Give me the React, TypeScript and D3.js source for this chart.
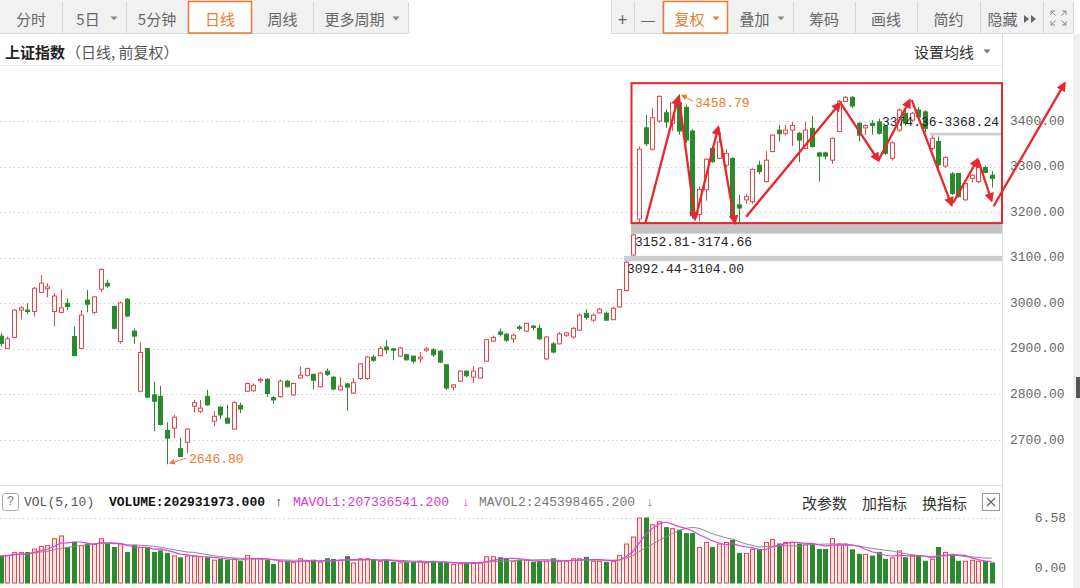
import React from 'react';
import * as d3 from 'd3';

// ---------- DATA ----------
const opens = [
  2928, 2901, 2925, 2985, 2985, 2982, 3024, 3032, 2982, 2980,
  3000, 2927, 2901, 3007, 2980, 3031, 3044, 2993, 2916, 3009,
  2939, 2807, 2901, 2799, 2796, 2721, 2726, 2681, 2695, 2774,
  2763, 2796, 2741, 2772, 2748, 2724, 2776, 2807, 2808, 2830,
  2833, 2793, 2795, 2829, 2799, 2836, 2842, 2844, 2817, 2851,
  2838, 2810, 2823, 2803, 2835, 2835, 2882, 2885, 2904, 2900,
  2884, 2887, 2884, 2878, 2897, 2898, 2895, 2865, 2816, 2829,
  2851, 2838, 2836, 2873, 2917, 2937, 2932, 2922, 2948, 2939,
  2950, 2945, 2878, 2911, 2911, 2930, 2926, 2941, 2978, 2963,
  2979, 2978, 2964, 2992, 3028, 3106, 3185, 3385, 3338, 3400,
  3418, 3395, 3440, 3430, 3378, 3195, 3249, 3340, 3318, 3303,
  3318, 3216, 3227, 3223, 3303, 3267, 3333, 3380, 3373, 3380,
  3373, 3340, 3384, 3330, 3330, 3314, 3377, 3443, 3452, 3395,
  3385, 3395, 3398, 3388, 3318, 3380, 3417, 3402, 3424, 3420,
  3340, 3355, 3301, 3284, 3285, 3227, 3274, 3267, 3298, 3281,
];
const highs = [
  2935, 2927, 2987, 2994, 3000, 3036, 3062, 3044, 3022, 3031,
  3011, 2949, 2985, 3029, 3015, 3077, 3052, 2995, 3004, 3011,
  2945, 2914, 2902, 2828, 2819, 2739, 2755, 2705, 2726, 2788,
  2788, 2810, 2763, 2775, 2777, 2785, 2782, 2826, 2824, 2836,
  2836, 2796, 2832, 2832, 2826, 2861, 2859, 2846, 2850, 2857,
  2840, 2838, 2825, 2836, 2869, 2884, 2887, 2906, 2919, 2902,
  2904, 2890, 2885, 2893, 2904, 2902, 2897, 2866, 2823, 2853,
  2853, 2862, 2860, 2922, 2929, 2945, 2935, 2933, 2952, 2957,
  2952, 2953, 2928, 2915, 2937, 2937, 2948, 2978, 2987, 2978,
  2990, 2982, 2993, 3031, 3092.44, 3152.81, 3344, 3413, 3428, 3456,
  3426, 3442, 3458.79, 3436, 3382, 3256, 3318, 3345, 3369, 3338,
  3320, 3238, 3240, 3296, 3313, 3334, 3371, 3392, 3392, 3398,
  3376, 3398, 3411, 3333, 3333, 3364, 3446, 3455, 3455, 3398,
  3393, 3402, 3405, 3390, 3356, 3428, 3425, 3420, 3430, 3424,
  3368.24, 3366, 3323, 3288, 3285, 3264, 3283, 3310, 3302, 3290,
];
const lows = [
  2905, 2899, 2923, 2965, 2976, 2971, 3022, 3013, 2949, 2978,
  2985, 2884, 2899, 2980, 2976, 3025, 3033, 2943, 2911, 2971,
  2911, 2805, 2793, 2719, 2732, 2646.8, 2704, 2663, 2671, 2760,
  2759, 2775, 2730, 2746, 2736, 2722, 2759, 2806, 2806, 2825,
  2795, 2779, 2793, 2815, 2797, 2835, 2839, 2811, 2815, 2840,
  2809, 2808, 2764, 2801, 2832, 2832, 2871, 2884, 2890, 2875,
  2882, 2874, 2868, 2869, 2893, 2882, 2869, 2810, 2809, 2827,
  2838, 2825, 2835, 2871, 2915, 2927, 2915, 2913, 2941, 2937,
  2941, 2919, 2876, 2890, 2910, 2926, 2922, 2939, 2964, 2959,
  2978, 2961, 2963, 2990, 3026, 3104, 3174.66, 3345, 3335, 3396,
  3385, 3378, 3370, 3352, 3186, 3180, 3225, 3308, 3316, 3298,
  3188, 3176, 3218, 3218, 3283, 3265, 3331, 3355, 3368, 3345,
  3310, 3338, 3341, 3267, 3316, 3306, 3375, 3441, 3428, 3355,
  3370, 3370, 3370, 3325, 3313, 3376, 3390, 3398, 3405, 3374.36,
  3335, 3292, 3297, 3238, 3232, 3225, 3265, 3263, 3285, 3254,
];
const closes = [
  2912, 2922, 2985, 2990, 2982, 3033, 3044, 3036, 3016, 2990,
  2993, 2885, 2974, 2998, 3014, 3074, 3038, 2945, 3001, 2972,
  2928, 2892, 2794, 2785, 2734, 2704, 2750, 2664, 2724, 2782,
  2770, 2777, 2752, 2755, 2737, 2782, 2768, 2824, 2820, 2833,
  2802, 2788, 2829, 2817, 2824, 2842, 2857, 2831, 2847, 2844,
  2812, 2818, 2816, 2826, 2867, 2882, 2875, 2901, 2898, 2897,
  2902, 2876, 2873, 2882, 2900, 2887, 2871, 2814, 2821, 2851,
  2841, 2851, 2858, 2920, 2925, 2932, 2919, 2930, 2945, 2956,
  2947, 2922, 2926, 2893, 2933, 2935, 2945, 2974, 2969, 2974,
  2987, 2963, 2989, 3030, 3090, 3150, 3338, 3350, 3407, 3454,
  3398, 3440, 3378, 3358, 3192, 3250, 3316, 3311, 3354, 3329,
  3190, 3209, 3234, 3294, 3289, 3314, 3369, 3372, 3380, 3390,
  3358, 3380, 3344, 3323, 3323, 3362, 3443, 3452, 3433, 3369,
  3390, 3390, 3373, 3329, 3352, 3424, 3395, 3417, 3409, 3384,
  3362, 3304, 3320, 3241, 3234, 3263, 3281, 3298, 3287, 3274,
];
// volume in 1e8 shares
const volumes = [
  2.73, 2.8, 3.08, 3.08, 3.08, 3.43, 3.7, 3.78, 4.48, 4.76,
  3.6, 4.13, 3.78, 3.95, 3.95, 4.48, 3.95, 3.6, 3.95, 3.08,
  3.78, 3.6, 3.6, 3.08, 3.25, 3.0, 2.73, 2.55, 2.73, 2.73,
  2.66, 2.55, 2.31, 2.38, 2.31, 2.45, 2.2, 2.8, 2.45, 2.45,
  2.31, 1.86, 2.2, 2.2, 2.1, 2.45, 2.2, 2.31, 2.1, 2.45,
  2.38, 2.31, 2.66, 2.03, 2.45, 2.45, 2.31, 2.2, 2.31, 2.1,
  2.03, 2.1, 2.1, 2.2, 2.03, 2.2, 2.1, 2.03, 1.86, 1.96,
  2.03, 2.03, 2.1, 2.66, 2.66, 2.55, 2.45, 2.2, 2.31, 2.31,
  2.1, 2.2, 2.2, 2.45, 2.2, 2.2, 2.45, 2.45, 2.6, 2.2,
  2.2, 2.1, 2.2, 2.8, 3.95, 4.65, 6.58, 6.58, 5.9, 6.2,
  5.6, 5.5, 5.35, 5.0, 5.0, 3.6, 4.1, 3.6, 3.95, 4.1,
  4.3, 3.0, 3.0, 3.4, 3.35, 4.1, 4.4, 3.95, 4.1, 4.1,
  3.95, 3.95, 3.95, 3.4, 3.4, 4.5, 3.95, 3.95, 3.35, 2.9,
  2.9, 2.73, 3.1, 2.4, 2.55, 3.25, 2.55, 2.8, 2.73, 2.2,
  2.4, 3.6, 3.1, 2.9, 2.2, 2.2, 2.3, 2.2, 2.2, 2.03,
];
const priceTicks = [2700, 2800, 2900, 3000, 3100, 3200, 3300, 3400];
const volMax = 6.58;
const volTickLabels = ['6.58', '0.00'];

// gaps: [startIndex, low, high, label]
const gapStarts = [95, 94, 140];
const gapLows = [3152.81, 3092.44, 3368.24];
const gapHighs = [3174.66, 3104.0, 3374.36];
const gapLabels = ['3152.81-3174.66', '3092.44-3104.00', '3374.36-3368.24'];

// hand-drawn arrows: [i0, p0, i1, p1]
const arrowSegs = [
  [96.9, 3174, 101.9, 3453],
  [102.0, 3450, 104.4, 3184],
  [104.5, 3187, 107.9, 3387],
  [107.9, 3385, 110.4, 3176],
  [112.1, 3190, 126.2, 3439],
  [126.4, 3437, 132.0, 3313],
  [132.0, 3314, 136.7, 3446],
  [137.0, 3446, 143.0, 3215],
  [143.2, 3220, 146.9, 3316],
  [147.0, 3314, 149.0, 3225],
  [149.3, 3213, 160.0, 3483],
];
// box drawn around the consolidation: [i0, pTop, pBottom]
const boxSpec = [94.85, 3483, 3176];

const highLabel = '3458.79';
const lowLabel = '2646.80';
const volHeader = {
  vol: '202931973.000',
  ma1: '207336541.200',
  ma2: '245398465.200',
};

const leftButtons = [
  { t: '分时', x0: 0, x1: 62, sel: false, caret: false, dx: 0 },
  { t: '5日', x0: 62, x1: 126, sel: false, caret: true, dx: 0 },
  { t: '5分钟', x0: 126, x1: 188, sel: false, caret: false, dx: 0 },
  { t: '日线', x0: 188, x1: 252, sel: true, caret: false, dx: 0 },
  { t: '周线', x0: 252, x1: 313, sel: false, caret: false, dx: 0 },
  { t: '更多周期', x0: 313, x1: 408, sel: false, caret: true, dx: 0 },
];
const rightButtons = [
  { t: '+', x0: 611, x1: 634, sel: false, caret: false, dx: 0 },
  { t: '—', x0: 634, x1: 662, sel: false, caret: false, dx: 0 },
  { t: '复权', x0: 663, x1: 728, sel: true, caret: true, dx: 0 },
  { t: '叠加', x0: 728, x1: 793, sel: false, caret: true, dx: 0 },
  { t: '筹码', x0: 793, x1: 855, sel: false, caret: false, dx: 0 },
  { t: '画线', x0: 855, x1: 917, sel: false, caret: false, dx: 0 },
  { t: '简约', x0: 917, x1: 980, sel: false, caret: false, dx: 0 },
  { t: '隐藏', x0: 980, x1: 1043, sel: false, caret: false, dx: -9 },
  { t: '', x0: 1043, x1: 1073, sel: false, caret: false, dx: 0 },
];

// ---------- STYLE ----------
const RED = '#e5454a';
const GREEN = '#2b8a2e';
const ORANGE = '#ec7a30';
const ARROW_RED = '#e8262b';
const MONO = '"Liberation Mono", "DejaVu Sans Mono", monospace';
const CJK = '"Noto Sans CJK SC", "Noto Sans", sans-serif';
const W = 1080;
const H = 588;
const PLOT_R = 1002;

export default function App() {
  const n = opens.length;
  const x = d3.scaleLinear().domain([0, n - 1]).range([0.75, 991.6]);
  const y = d3.scaleLinear().domain([2700, 3400]).range([440, 121]);
  const vy = d3.scaleLinear().domain([0, volMax]).range([583, 518]);

  const ma = (k: number) =>
    volumes.map((_, i) => d3.mean(volumes.slice(Math.max(0, i - k + 1), i + 1)) as number);
  const ma5 = ma(5);
  const ma10 = ma(10);
  const line = d3
    .line<number>()
    .x((_, i) => x(i))
    .y((v) => vy(v));

  const caret = (cx: number, cy: number, col: string) => (
    <path d={`M${cx - 3.5},${cy - 1.5} L${cx + 3.5},${cy - 1.5} L${cx},${cy + 2.5} Z`} fill={col} />
  );

  const renderButtons = (btns: typeof leftButtons) =>
    btns.map((b, k) => {
      const cx = (b.x0 + b.x1) / 2 - (b.caret ? 6 : 0) + b.dx;
      const col = b.sel ? ORANGE : '#666';
      return (
        <g key={k}>
          {b.sel ? (
            <rect x={b.x0 + 0.5} y={1.5} width={b.x1 - b.x0 - 1} height={31.5} fill="#fff" stroke={ORANGE} strokeWidth={1.5} />
          ) : (
            <line x1={b.x1 + 0.5} x2={b.x1 + 0.5} y1={2} y2={33} stroke="#d6d6d6" />
          )}
          {b.t && (
            <text x={cx} y={18} fontFamily={CJK} fontSize={b.t === '+' || b.t === '—' ? 17 : 15} fill={col} textAnchor="middle" dominantBaseline="central">
              {b.t}
            </text>
          )}
          {b.caret && caret(b.x1 - 12, 18, b.sel ? ORANGE : '#888')}
        </g>
      );
    });

  return (
    <svg width={W} height={H} style={{ position: 'absolute', left: 0, top: 0, background: '#fff' }} xmlns="http://www.w3.org/2000/svg">
      <defs>
        <marker id="ah" viewBox="0 0 10 10" refX="8" refY="5" markerWidth="4.6" markerHeight="4.2" orient="auto">
          <path d="M0,0 L10,5 L0,10 z" fill={ARROW_RED} />
        </marker>
        <marker id="ahO" viewBox="0 0 10 10" refX="8" refY="5" markerWidth="6" markerHeight="6" orient="auto">
          <path d="M0,0 L10,5 L0,10 z" fill={ORANGE} />
        </marker>
        <clipPath id="plotClip">
          <rect x={0} y={66} width={PLOT_R} height={418} />
        </clipPath>
      </defs>
      <rect x={0} y={0} width={W} height={H} fill="#fff" />

      {/* toolbar */}
      <rect x={0} y={0} width={408} height={34} fill="#f1f1f1" />
      <rect x={611} y={0} width={462} height={34} fill="#f1f1f1" />
      <line x1={0} x2={408} y1={33.5} y2={33.5} stroke="#dcdcdc" />
      <line x1={611} x2={1073} y1={33.5} y2={33.5} stroke="#dcdcdc" />
      <line x1={611.5} x2={611.5} y1={0} y2={34} stroke="#dcdcdc" />
      {renderButtons(leftButtons)}
      {renderButtons(rightButtons)}
      {/* hide arrows */}
      <path d="M1024,15 L1029,19 L1024,23 Z M1031,15 L1036,19 L1031,23 Z" fill="#666" />
      {/* fullscreen icon */}
      <g stroke="#888" strokeWidth={1} fill="none">
        <path d="M1051,15 L1051,11 L1055,11 M1051,11 L1055.5,15.5" />
        <path d="M1066,15 L1066,11 L1062,11 M1066,11 L1061.5,15.5" />
        <path d="M1051,21 L1051,25 L1055,25 M1051,25 L1055.5,20.5" />
        <path d="M1066,21 L1066,25 L1062,25 M1066,25 L1061.5,20.5" />
      </g>

      {/* title row */}
      <text x={5} y={51} fontFamily={CJK} fontSize={15} fill="#222" fontWeight={600} dominantBaseline="central">
        上证指数
      </text>
      <text x={66} y={51} fontFamily={CJK} fontSize={15} fill="#555" dominantBaseline="central">
        （日线, 前复权）
      </text>
      <text x={914} y={51} fontFamily={CJK} fontSize={15} fill="#333" dominantBaseline="central">
        设置均线
      </text>
      {caret(987, 51, '#777')}
      <line x1={0} x2={PLOT_R} y1={65.5} y2={65.5} stroke="#ececec" />

      {/* right axis separators */}
      <line x1={PLOT_R + 0.5} x2={PLOT_R + 0.5} y1={34} y2={H} stroke="#dedede" />
      <rect x={1073} y={34} width={7} height={H - 34} fill="#efefef" />
      <rect x={1076} y={377} width={4} height={21} fill="#555" />

      {/* price grid */}
      {priceTicks.map((t) => (
        <g key={t}>
          <line x1={0} x2={PLOT_R} y1={Math.round(y(t)) + 0.5} y2={Math.round(y(t)) + 0.5} stroke="#cfcfcf" strokeDasharray="1.5,3" />
          <text x={1010} y={y(t)} fontFamily={MONO} fontSize={13} fill="#666" dominantBaseline="central">
            {t.toFixed(2)}
          </text>
        </g>
      ))}

      {/* gaps */}
      {gapStarts.map((s, k) => {
        const x0 = Math.round(x(s)) - 2;
        const yTop = y(gapHighs[k]);
        const yBot = y(gapLows[k]);
        return (
          <g key={k}>
            <rect x={x0} y={yTop} width={PLOT_R - x0} height={Math.max(yBot - yTop, 2)} fill={k === 0 ? '#c4c4c4' : '#cdcdcd'} />
          </g>
        );
      })}

      {/* candles */}
      <g clipPath="url(#plotClip)">
        {opens.map((o, i) => {
          const c = closes[i];
          const up = c >= o;
          const col = up ? RED : GREEN;
          const cx = Math.round(x(i));
          const top = y(Math.max(o, c));
          const bot = y(Math.min(o, c));
          return (
            <g key={i}>
              <line x1={cx + 0.5} x2={cx + 0.5} y1={y(highs[i])} y2={top} stroke={col} />
              <line x1={cx + 0.5} x2={cx + 0.5} y1={bot} y2={y(lows[i])} stroke={col} />
              <rect x={cx - 1.5} y={top} width={4} height={Math.max(bot - top, 1)} fill={up ? '#fff' : col} stroke={col} />
            </g>
          );
        })}
      </g>

      {/* gap labels */}
      <text x={Math.round(x(gapStarts[0])) + 2} y={y(gapLows[0]) + 9} fontFamily={MONO} fontSize={13} fill="#222" dominantBaseline="central">
        {gapLabels[0]}
      </text>
      <text x={Math.round(x(gapStarts[1])) + 1} y={y(gapLows[1]) + 8} fontFamily={MONO} fontSize={13} fill="#222" dominantBaseline="central">
        {gapLabels[1]}
      </text>
      <text x={PLOT_R - 3} y={y(gapHighs[2]) - 10} fontFamily={MONO} fontSize={13} fill="#222" textAnchor="end" dominantBaseline="central">
        {gapLabels[2]}
      </text>

      {/* high / low labels */}
      <line x1={x(102) + 14} y1={y(3458.79) + 7} x2={x(102) + 3} y2={y(3458.79) + 1} stroke={ORANGE} strokeWidth={1} markerEnd="url(#ahO)" />
      <text x={x(102) + 16} y={y(3458.79) + 9} fontFamily={MONO} fontSize={13} fill={ORANGE} dominantBaseline="central">
        {highLabel}
      </text>
      <line x1={x(25) + 19} y1={y(2646.8) - 6} x2={x(25) + 3} y2={y(2646.8) - 1} stroke={ORANGE} strokeWidth={1} markerEnd="url(#ahO)" />
      <text x={x(25) + 22} y={y(2646.8) - 5} fontFamily={MONO} fontSize={13} fill={ORANGE} dominantBaseline="central">
        {lowLabel}
      </text>

      {/* red box */}
      <rect
        x={x(boxSpec[0])}
        y={y(boxSpec[1])}
        width={PLOT_R - x(boxSpec[0])}
        height={y(boxSpec[2]) - y(boxSpec[1])}
        fill="none"
        stroke={ARROW_RED}
        strokeWidth={2}
      />

      {/* hand drawn arrows */}
      {arrowSegs.map((s, k) => (
        <line key={k} x1={x(s[0])} y1={y(s[1])} x2={x(s[2])} y2={y(s[3])} stroke={ARROW_RED} strokeWidth={2.3} markerEnd="url(#ah)" />
      ))}

      {/* volume panel */}
      <line x1={0} x2={PLOT_R} y1={485.5} y2={485.5} stroke="#e2e2e2" />
      <rect x={2.5} y={493.5} width={16} height={17} rx={2} fill="#fff" stroke="#aaa" />
      <text x={10.5} y={502} fontFamily={MONO} fontSize={12} fill="#777" textAnchor="middle" dominantBaseline="central">
        ?
      </text>
      <text y={502} fontFamily={MONO} fontSize={13} dominantBaseline="central">
        <tspan x={24} fill="#555">VOL(5,10)</tspan>
        <tspan x={109} fill="#111" fontWeight="bold">VOLUME:{volHeader.vol}</tspan>
        <tspan x={275} fill="#111">↑</tspan>
        <tspan x={293} fill="#d63ad6">MAVOL1:{volHeader.ma1}</tspan>
        <tspan x={462} fill="#d63ad6">↓</tspan>
        <tspan x={479} fill="#777">MAVOL2:{volHeader.ma2}</tspan>
        <tspan x={646} fill="#777">↓</tspan>
      </text>
      <text x={802} y={502} fontFamily={CJK} fontSize={15} fill="#333" dominantBaseline="central">改参数</text>
      <text x={862} y={502} fontFamily={CJK} fontSize={15} fill="#333" dominantBaseline="central">加指标</text>
      <text x={922} y={502} fontFamily={CJK} fontSize={15} fill="#333" dominantBaseline="central">换指标</text>
      <rect x={982.5} y={493.5} width={17} height={17} fill="#fff" stroke="#999" />
      <path d="M987,498 L995,506 M995,498 L987,506" stroke="#666" strokeWidth={1.2} />

      <line x1={0} x2={PLOT_R} y1={518.5} y2={518.5} stroke="#cfcfcf" strokeDasharray="1.5,3" />
      <text x={1066} y={518} fontFamily={MONO} fontSize={13} fill="#666" textAnchor="end" dominantBaseline="central">
        {volTickLabels[0]}
      </text>
      <text x={1066} y={568} fontFamily={MONO} fontSize={13} fill="#666" textAnchor="end" dominantBaseline="central">
        {volTickLabels[1]}
      </text>

      {volumes.map((v, i) => {
        const up = closes[i] >= opens[i];
        const col = up ? RED : GREEN;
        const cx = Math.round(x(i));
        const top = vy(v);
        return (
          <rect key={i} x={cx - 1.5} y={top} width={4} height={vy(0) - top} fill={up ? '#fbe4e4' : col} stroke={col} />
        );
      })}
      <path d={line(ma10) || ''} fill="none" stroke="#8a8a8a" strokeWidth={1} />
      <path d={line(ma5) || ''} fill="none" stroke="#e040e0" strokeWidth={1.2} />
    </svg>
  );
}
